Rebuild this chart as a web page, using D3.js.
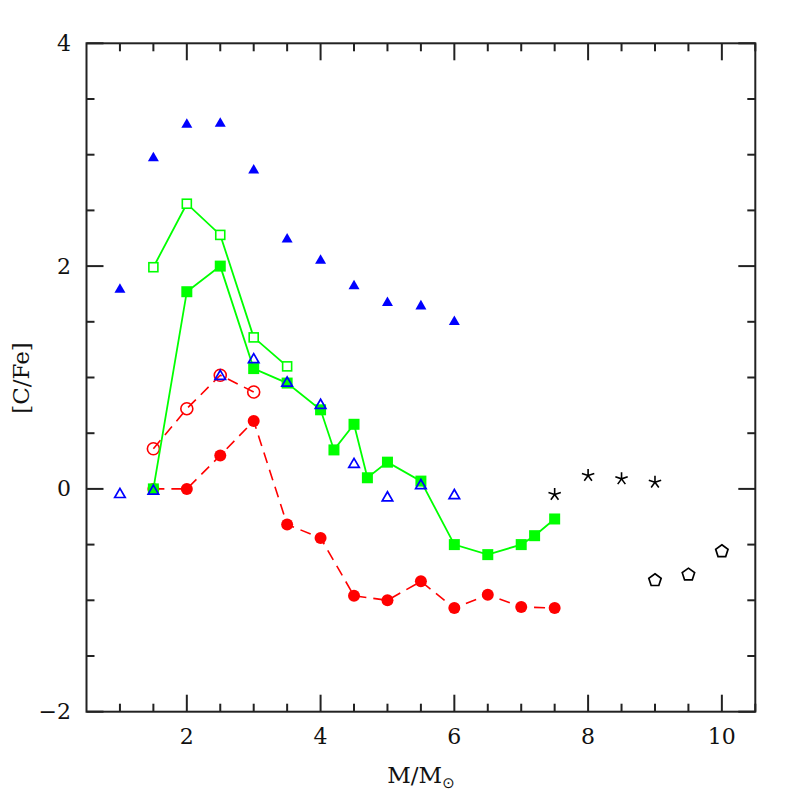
<!DOCTYPE html>
<html>
<head>
<meta charset="utf-8">
<script src="https://cdn.jsdelivr.net/npm/d3@7"></script>
<style>
  html, body { margin: 0; padding: 0; background: #fff; }
  svg text { font-family: "DejaVu Serif", "Liberation Serif", serif; fill: #111; }
</style>
</head>
<body>
<svg id="chart" width="797" height="797"></svg>
<script>
// ---- data ----
const blueFilledX = [1, 1.5, 2, 2.5, 3, 3.5, 4, 4.5, 5, 5.5, 6];
const blueFilledY = [1.79, 2.97, 3.27, 3.28, 2.86, 2.24, 2.05, 1.82, 1.67, 1.64, 1.50];

const greenOpenX = [1.5, 2, 2.5, 3, 3.5];
const greenOpenY = [1.99, 2.56, 2.28, 1.36, 1.10];

const greenFilledX = [1.5, 2, 2.5, 3, 3.5, 4, 4.2, 4.5, 4.7, 5, 5.5, 6, 6.5, 7, 7.2, 7.5];
const greenFilledY = [0.0, 1.77, 2.00, 1.08, 0.95, 0.71, 0.35, 0.58, 0.10, 0.24, 0.07, -0.50, -0.59, -0.50, -0.42, -0.27];

const blueOpenX = [1, 1.5, 2.5, 3, 3.5, 4, 4.5, 5, 5.5, 6];
const blueOpenY = [-0.05, -0.02, 1.01, 1.16, 0.95, 0.75, 0.22, -0.08, 0.03, -0.06];

const redOpenX = [1.5, 2, 2.5, 3];
const redOpenY = [0.36, 0.72, 1.02, 0.87];

const redFilledX = [1.5, 2, 2.5, 3, 3.5, 4, 4.5, 5, 5.5, 6, 6.5, 7, 7.5];
const redFilledY = [0.0, 0.0, 0.30, 0.61, -0.32, -0.44, -0.96, -1.00, -0.83, -1.07, -0.95, -1.06, -1.07];

const starX = [7.5, 8, 8.5, 9];
const starY = [-0.05, 0.12, 0.09, 0.06];

const pentX = [9, 9.5, 10];
const pentY = [-0.82, -0.77, -0.56];

const xTickLabels = [2, 4, 6, 8, 10];
const yTickLabels = [-2, 0, 2, 4];

// ---- layout ----
const svg = d3.select("#chart");
const L = 86.5, R = 755.3, T = 43.3, B = 711.7;
const x = d3.scaleLinear().domain([0.5, 10.5]).range([L, R]);
const y = d3.scaleLinear().domain([-2, 4]).range([B, T]);
const axisColor = "#222";

const zip = (xs, ys) => xs.map((v, i) => ({x: v, y: ys[i]}));
const line = d3.line().x(d => x(d.x)).y(d => y(d.y));

// frame
svg.append("rect").attr("x", L).attr("y", T).attr("width", R - L).attr("height", B - T)
  .attr("fill", "none").attr("stroke", axisColor).attr("stroke-width", 2);

// ticks
const xMinor = d3.range(1, 10.51, 0.5);
const yMinor = d3.range(-2, 4.01, 0.5);
const tg = svg.append("g").attr("stroke", axisColor).attr("stroke-width", 2);
xMinor.forEach(v => {
  const major = Math.abs(v / 2 - Math.round(v / 2)) < 1e-6;
  const len = major ? 17 : 8;
  tg.append("line").attr("x1", x(v)).attr("x2", x(v)).attr("y1", B).attr("y2", B - len);
  tg.append("line").attr("x1", x(v)).attr("x2", x(v)).attr("y1", T).attr("y2", T + len);
});
yMinor.forEach(v => {
  const major = Math.abs(v / 2 - Math.round(v / 2)) < 1e-6;
  const len = major ? 17 : 8;
  tg.append("line").attr("y1", y(v)).attr("y2", y(v)).attr("x1", L).attr("x2", L + len);
  tg.append("line").attr("y1", y(v)).attr("y2", y(v)).attr("x1", R).attr("x2", R - len);
});

// tick labels
svg.append("g").selectAll("text").data(xTickLabels).join("text")
  .attr("x", d => x(d)).attr("y", 744).attr("text-anchor", "middle")
  .attr("font-size", 22).text(d => d);
svg.append("g").selectAll("text").data(yTickLabels).join("text")
  .attr("x", 71).attr("y", d => y(d) + 7.5).attr("text-anchor", "end")
  .attr("font-size", 22).text(d => d < 0 ? "\u2212" + Math.abs(d) : d);

// axis titles
const xl = svg.append("text").attr("x", 421).attr("y", 783).attr("text-anchor", "middle").attr("font-size", 23);
xl.append("tspan").text("M/M");
xl.append("tspan").attr("font-size", 15).attr("dy", 5).attr("font-family", "DejaVu Sans").text("\u2299");
svg.append("text").attr("transform", "translate(29,378) rotate(-90)").attr("text-anchor", "middle")
  .attr("font-size", 23).text("[C/Fe]");

// ---- series ----
// red dashed lines
svg.append("path").datum(zip(redOpenX, redOpenY)).attr("d", line)
  .attr("fill", "none").attr("stroke", "#ff0000").attr("stroke-width", 1.6).attr("stroke-dasharray", "11,7");
svg.append("path").datum(zip(redFilledX, redFilledY)).attr("d", line)
  .attr("fill", "none").attr("stroke", "#ff0000").attr("stroke-width", 1.6).attr("stroke-dasharray", "11,7");
svg.append("g").selectAll("circle").data(zip(redOpenX, redOpenY)).join("circle")
  .attr("cx", d => x(d.x)).attr("cy", d => y(d.y)).attr("r", 6)
  .attr("fill", "none").attr("stroke", "#ff0000").attr("stroke-width", 1.6);
svg.append("g").selectAll("circle").data(zip(redFilledX, redFilledY)).join("circle")
  .attr("cx", d => x(d.x)).attr("cy", d => y(d.y)).attr("r", 6)
  .attr("fill", "#ff0000");

// green lines
svg.append("path").datum(zip(greenOpenX, greenOpenY)).attr("d", line)
  .attr("fill", "none").attr("stroke", "#00ff00").attr("stroke-width", 1.8);
svg.append("path").datum(zip(greenFilledX, greenFilledY)).attr("d", line)
  .attr("fill", "none").attr("stroke", "#00ff00").attr("stroke-width", 1.8);
svg.append("g").selectAll("rect").data(zip(greenOpenX, greenOpenY)).join("rect")
  .attr("x", d => x(d.x) - 4.5).attr("y", d => y(d.y) - 4.5).attr("width", 9).attr("height", 9)
  .attr("fill", "#fff").attr("stroke", "#00ff00").attr("stroke-width", 1.6);
svg.append("g").selectAll("rect").data(zip(greenFilledX, greenFilledY)).join("rect")
  .attr("x", d => x(d.x) - 5.5).attr("y", d => y(d.y) - 5.5).attr("width", 11).attr("height", 11)
  .attr("fill", "#00ff00");

// blue triangles
const tri = (w) => {
  const h = w * 0.866;
  return `M0,${-h * 2 / 3}L${w / 2},${h / 3}L${-w / 2},${h / 3}Z`;
};
svg.append("g").selectAll("path").data(zip(blueFilledX, blueFilledY)).join("path")
  .attr("transform", d => `translate(${x(d.x)},${y(d.y)})`).attr("d", tri(11))
  .attr("fill", "#0000ff");
svg.append("g").selectAll("path").data(zip(blueOpenX, blueOpenY)).join("path")
  .attr("transform", d => `translate(${x(d.x)},${y(d.y)})`).attr("d", tri(10.5))
  .attr("fill", "none").attr("stroke", "#0000ff").attr("stroke-width", 1.7);

// black stars (5-arm asterisks)
const starPath = (r) => d3.range(5).map(i => {
  const a = -Math.PI / 2 + i * 2 * Math.PI / 5;
  return `M0,0L${(r * Math.cos(a)).toFixed(2)},${(r * Math.sin(a)).toFixed(2)}`;
}).join("");
svg.append("g").selectAll("path").data(zip(starX, starY)).join("path")
  .attr("transform", d => `translate(${x(d.x)},${y(d.y)})`).attr("d", starPath(6.5))
  .attr("fill", "none").attr("stroke", "#000").attr("stroke-width", 1.6);

// black open pentagons
const pentPath = (r) => "M" + d3.range(5).map(i => {
  const a = -Math.PI / 2 + i * 2 * Math.PI / 5;
  return `${(r * Math.cos(a)).toFixed(2)},${(r * Math.sin(a)).toFixed(2)}`;
}).join("L") + "Z";
svg.append("g").selectAll("path").data(zip(pentX, pentY)).join("path")
  .attr("transform", d => `translate(${x(d.x)},${y(d.y)})`).attr("d", pentPath(6.5))
  .attr("fill", "none").attr("stroke", "#000").attr("stroke-width", 1.7);
</script>
</body>
</html>
